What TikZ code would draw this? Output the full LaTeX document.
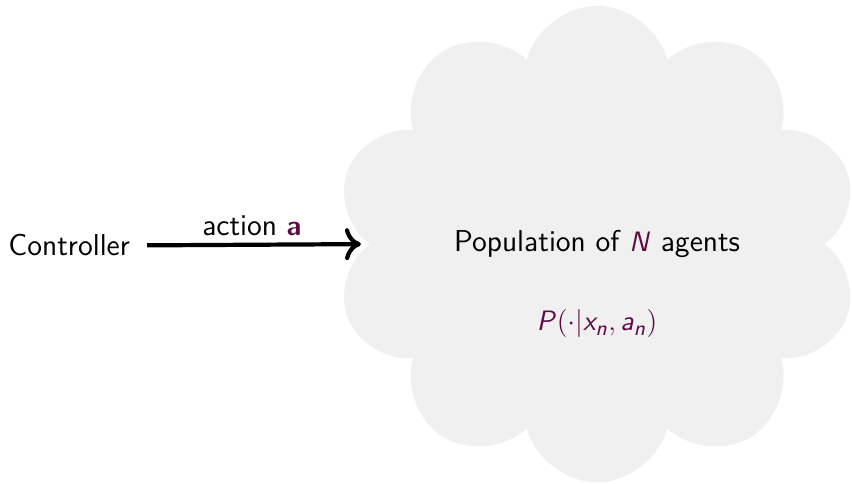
\documentclass[tikz,border=0pt]{standalone}
\usepackage{tikz}
\usetikzlibrary{arrows.meta, positioning, shapes.symbols}
\renewcommand{\familydefault}{\sfdefault}
\DeclareMathAlphabet{\mathsfit}{OT1}{cmss}{m}{sl}
\DeclareMathAlphabet{\mathsfbf}{OT1}{cmss}{bx}{n}
\definecolor{moradoprofundo}{HTML}{5E0A47}
\definecolor{grisnube}{HTML}{F0F0F0}
\colorlet{colTexto}{black}
\colorlet{colMath}{moradoprofundo}
\colorlet{colNube}{grisnube}
\newcommand{\mat}[1]{{\color{colMath}#1}}
\tikzset{
  textoBase/.style={font=\fontsize{12.9}{15}\selectfont, text=colTexto, inner sep=2pt},
  nube/.style={cloud, cloud puffs=10, cloud ignores aspect, fill=colNube,
    draw=none, minimum width=7.88cm, minimum height=7.16cm,
    shape border rotate=90, textoBase},
  flecha/.style={-{To[length=2.4mm, width=4.8mm]}, line width=1.8pt, colTexto,
    shorten <=1.8mm, shorten >=1.2mm},
  etiquetaFlecha/.style={textoBase, above, inner sep=3pt},
}
\begin{document}
\begin{tikzpicture}
  \useasboundingbox (0,0) rectangle (12.8,7.257);

  \node[nube] (poblacion) at (8.97,3.59) {Population of \mat{$\mathsfit{N}$} agents};
  \node[textoBase, below=1.2cm of poblacion.center, anchor=center] (kernel)
    {\mat{$\mathsfit{P}(\cdot|\mathsfit{x}_{\mathsfit{n}},\mathsfit{a}_{\mathsfit{n}})$}};
  \node[textoBase, anchor=west] (control) at (0.05,3.57) {Controller};

  \draw[flecha] (control.east) -- (poblacion.west)
    node[etiquetaFlecha, midway] (accion) {action \mat{$\mathsfbf{a}$}};
\end{tikzpicture}
\end{document}
